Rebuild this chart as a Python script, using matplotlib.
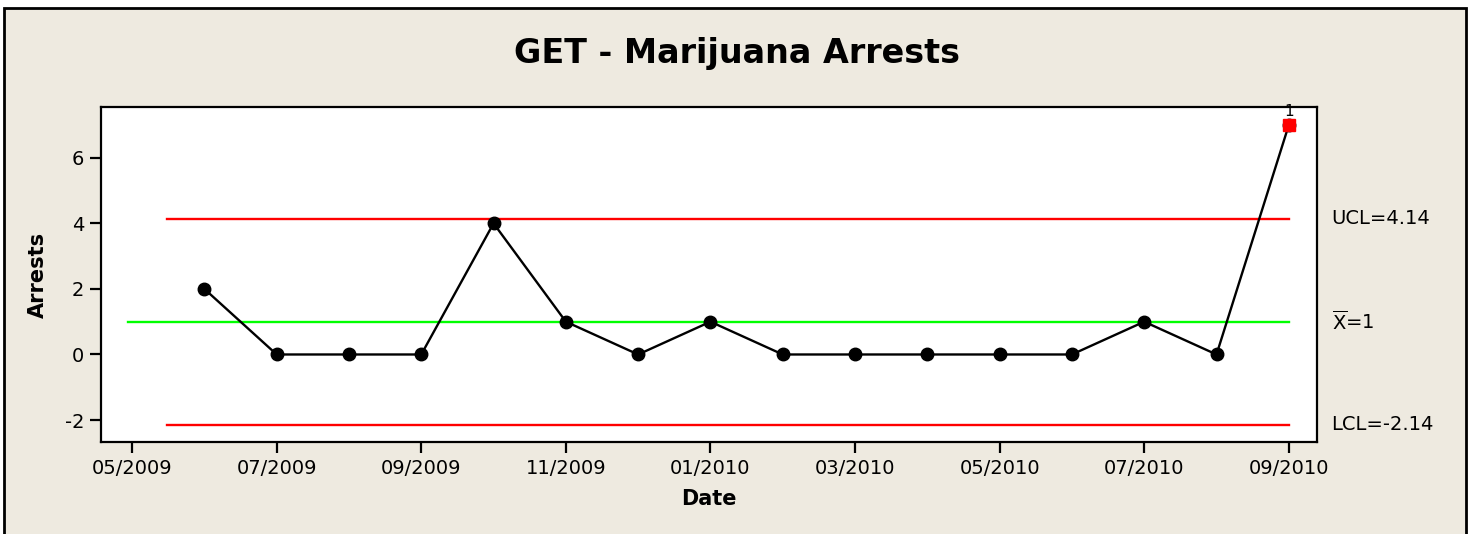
import numpy as np
import matplotlib
matplotlib.use("Agg")
import matplotlib.pyplot as plt
from matplotlib.patches import Rectangle

plt.rcParams["axes.unicode_minus"] = False

# data (one point per month, 06/2009 .. 09/2010)
months = ["05/2009", "06/2009", "07/2009", "08/2009", "09/2009", "10/2009",
          "11/2009", "12/2009", "01/2010", "02/2010", "03/2010", "04/2010",
          "05/2010", "06/2010", "07/2010", "08/2010", "09/2010"]
arrests = [2, 0, 0, 0, 4, 1, 0, 1, 0, 0, 0, 0, 0, 1, 0, 7]
ucl = 4.14
mean = 1
lcl = -2.14
out_of_control = [15]   # index into arrests

bg = "#EEEAE0"
x = np.arange(1, len(arrests) + 1)

fig = plt.figure(figsize=(14.73, 5.34), dpi=100, facecolor="white")
fig.patches.append(Rectangle((4 / 1473, -0.05), 1462 / 1473, 1.05 - 8 / 534,
                             transform=fig.transFigure, facecolor=bg,
                             edgecolor="black", lw=2, zorder=-10))

ax = fig.add_axes([101 / 1473, 1 - 442 / 534, (1317 - 101) / 1473, (442 - 107) / 534])
ax.set_facecolor("white")

# control lines
ax.plot([-0.05, 16], [mean, mean], color="#00FF00", lw=1.7, zorder=2)
ax.plot([0.48, 16], [ucl, ucl], color="red", lw=1.7, zorder=2)
ax.plot([0.48, 16], [lcl, lcl], color="red", lw=1.7, zorder=2)

ax.plot(x, arrests, color="black", lw=1.7, marker="o", ms=9,
        markerfacecolor="black", zorder=3)
for i in out_of_control:
    ax.plot(x[i], arrests[i], marker="s", ms=9, color="red", zorder=4, lw=0)
    ax.text(x[i], 7.4, "1", ha="center", va="center", fontsize=11, zorder=5)

ax.set_xlim(-0.43, 16.39)
ax.set_ylim(-2.67, 7.55)
ax.set_xticks(np.arange(0, 17, 2))
ax.set_xticklabels(months[::2])
ax.set_yticks([-2, 0, 2, 4, 6])
ax.tick_params(direction="out", length=8, width=1.6, labelsize=14, pad=4)
for s in ax.spines.values():
    s.set_linewidth(1.6)

ax.set_xlabel("Date", fontsize=15, fontweight="bold", labelpad=8)
ax.set_ylabel("Arrests", fontsize=15, fontweight="bold", labelpad=12)

fig.text(0.5, 1 - 54 / 534, "GET - Marijuana Arrests", ha="center", va="center",
         fontsize=24, fontweight="bold")

ax.text(1.012, ucl, "UCL=4.14", transform=ax.get_yaxis_transform(),
        ha="left", va="center", fontsize=14)
ax.text(1.012, mean, r"$\overline{\mathrm{X}}$=1", transform=ax.get_yaxis_transform(),
        ha="left", va="center", fontsize=14)
ax.text(1.012, lcl, "LCL=-2.14", transform=ax.get_yaxis_transform(),
        ha="left", va="center", fontsize=14)

fig.savefig("out.png", dpi=100, facecolor="white")
